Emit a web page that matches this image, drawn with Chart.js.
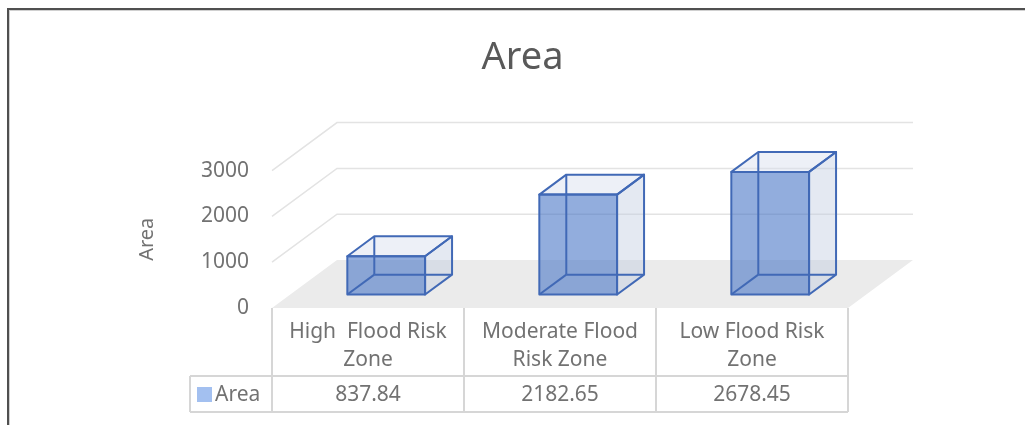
<!DOCTYPE html>
<html>
<head>
<meta charset="utf-8">
<script src="https://cdn.jsdelivr.net/npm/chart.js@4.4.1/dist/chart.umd.min.js"></script>
<style>
html,body{margin:0;padding:0;background:#fff;}
#wrap{position:relative;width:1025px;height:425px;overflow:hidden;}
#frame{position:absolute;left:7px;top:8px;width:1040px;height:440px;border-top:2px solid #505050;border-left:2px solid #505050;box-shadow:inset 1px 1px 0 #d0d0d0;}
canvas{position:absolute;left:0;top:0;}
</style>
</head>
<body>
<div id="wrap"><div id="frame"></div><canvas id="chart" width="1025" height="425"></canvas></div>
<script>
// data
const categories=[['High  Flood Risk','Zone'],['Moderate Flood','Risk Zone'],['Low Flood Risk','Zone']];
const seriesName='Area';
const areaValues=[837.84,2182.65,2678.45];
const yTicks=[0,1000,2000,3000];

const titleColor='#595959';
const textColor='#727272';
const fontFamily='"Noto Sans", "Open Sans", sans-serif';
const floorColor='#ebebeb';
const gridColor='#e3e3e3';
const edgeColor='#4169b6';
const frontFill='rgba(68,114,196,0.58)';
const topFill='rgba(214,222,238,0.45)';
const sideFill='rgba(190,202,224,0.42)';
const keyColor='#a3c0f0';
const tableLine='#d6d6d6';

// 3d look: offset from front of the floor to the back wall
const depth={dx:65,dy:-48};
const barFront=0.28, barBack=0.695;

function poly(ctx,pts)
{
ctx.beginPath();
ctx.moveTo(pts[0][0],pts[0][1]);
for(let i=1;i<pts.length;i++) ctx.lineTo(pts[i][0],pts[i][1]);
ctx.closePath();
}

function seg(ctx,x1,y1,x2,y2)
{
ctx.beginPath();
ctx.moveTo(x1,y1);
ctx.lineTo(x2,y2);
ctx.stroke();
}

const box3d=
{
id:'box3d',
beforeDatasetsDraw(chart)
{
const {ctx,chartArea:a,scales:{y}}=chart;
const y0=y.getPixelForValue(0);
ctx.save();
ctx.fillStyle=floorColor;
poly(ctx,[[a.left,y0],[a.right,y0],[a.right+depth.dx,y0+depth.dy],[a.left+depth.dx,y0+depth.dy]]);
ctx.fill();
ctx.strokeStyle=gridColor;
ctx.lineWidth=1.5;
yTicks.forEach(v=>
{
if(v===0) return;
const py=y.getPixelForValue(v);
ctx.beginPath();
ctx.moveTo(a.left,py);
ctx.lineTo(a.left+depth.dx,py+depth.dy);
ctx.lineTo(a.right+depth.dx,py+depth.dy);
ctx.stroke();
});
ctx.restore();
},
afterDatasetsDraw(chart)
{
const ctx=chart.ctx;
const meta=chart.getDatasetMeta(0);
const ox=depth.dx*(barBack-barFront), oy=depth.dy*(barBack-barFront);
ctx.save();
meta.data.forEach(bar=>
{
const p=bar.getProps(['x','y','base','width'],true);
const x0=p.x-p.width/2+depth.dx*barFront;
const x1=p.x+p.width/2+depth.dx*barFront;
const yt=p.y+depth.dy*barFront;
const yb=p.base+depth.dy*barFront;
// faces
ctx.fillStyle=sideFill;
poly(ctx,[[x1,yt],[x1+ox,yt+oy],[x1+ox,yb+oy],[x1,yb]]);
ctx.fill();
ctx.fillStyle=topFill;
poly(ctx,[[x0,yt],[x1,yt],[x1+ox,yt+oy],[x0+ox,yt+oy]]);
ctx.fill();
ctx.fillStyle=frontFill;
poly(ctx,[[x0,yt],[x1,yt],[x1,yb],[x0,yb]]);
ctx.fill();
// edges
ctx.strokeStyle=edgeColor;
ctx.lineWidth=2;
ctx.lineJoin='round';
seg(ctx,x0+ox,yt+oy,x0+ox,yb+oy);
seg(ctx,x0+ox,yb+oy,x1+ox,yb+oy);
seg(ctx,x0,yb,x0+ox,yb+oy);
poly(ctx,[[x0,yt],[x1,yt],[x1,yb],[x0,yb]]);
ctx.stroke();
poly(ctx,[[x0,yt],[x1,yt],[x1+ox,yt+oy],[x0+ox,yt+oy]]);
ctx.stroke();
poly(ctx,[[x1,yt],[x1+ox,yt+oy],[x1+ox,yb+oy],[x1,yb]]);
ctx.stroke();
});
ctx.restore();
},
afterDraw(chart)
{
// data table under the axis
const {ctx,chartArea:a,scales:{x}}=chart;
const n=categories.length;
const colW=(a.right-a.left)/n;
const rowTop=a.bottom+68;
const rowBottom=a.bottom+104;
const keyLeft=a.left-82;
ctx.save();
ctx.strokeStyle=tableLine;
ctx.lineWidth=2;
for(let i=0;i<=n;i++)
{
const vx=a.left+i*colW;
seg(ctx,vx,a.bottom,vx,rowBottom);
}
seg(ctx,keyLeft,rowTop,a.right,rowTop);
seg(ctx,keyLeft,rowBottom,a.right,rowBottom);
seg(ctx,keyLeft,rowTop,keyLeft,rowBottom);
ctx.font='21px '+fontFamily;
ctx.fillStyle=textColor;
ctx.textBaseline='middle';
ctx.textAlign='center';
const midY=(rowTop+rowBottom)/2+1;
areaValues.forEach((v,i)=>
{
ctx.fillText(v.toFixed(2),x.getPixelForValue(i),midY);
});
ctx.fillStyle=keyColor;
ctx.fillRect(keyLeft+7,midY-8,15,15);
ctx.fillStyle=textColor;
ctx.textAlign='left';
ctx.fillText(seriesName,keyLeft+25,midY);
ctx.restore();
}
};

const ctx=document.getElementById('chart');
new Chart(ctx,
{
type:'bar',
data:{
labels:categories,
datasets:[{
label:seriesName,
data:areaValues,
backgroundColor:'rgba(0,0,0,0)',
borderWidth:0,
barPercentage:0.81,
categoryPercentage:0.5
}]
},
options:{
responsive:false,
animation:false,
layout:{padding:{left:20,right:0,top:0,bottom:0}},
plugins:{
legend:{display:false},
tooltip:{enabled:false},
title:{
display:true,
text:'Area',
color:titleColor,
font:{family:fontFamily,size:38,weight:'normal',lineHeight:1.2},
padding:{top:35,bottom:90}
}
},
scales:{
x:{
grid:{display:false,drawTicks:false},
border:{display:false},
ticks:{color:textColor,padding:10,maxRotation:0,font:{family:fontFamily,size:21,lineHeight:1.333}},
afterFit(s){s.height=117;}
},
y:{
min:0,
max:3000,
grid:{display:false,drawTicks:false},
border:{display:false},
afterBuildTicks(s){s.ticks=yTicks.map(v=>({value:v}));},
ticks:{
color:textColor,
padding:23,
font:{family:fontFamily,size:21},
callback:function(val){return String(val);}
},
title:{
display:true,
text:'Area',
color:textColor,
font:{family:fontFamily,size:20,lineHeight:1.2},
padding:{top:115,bottom:0}
},
afterFit(s){s.width=252;}
},
y2:{
type:'linear',
position:'right',
display:true,
grid:{display:false,drawTicks:false},
border:{display:false},
ticks:{display:false},
afterFit(s){s.width=177;}
}
}
},
plugins:[box3d]
});
</script>
</body>
</html>
